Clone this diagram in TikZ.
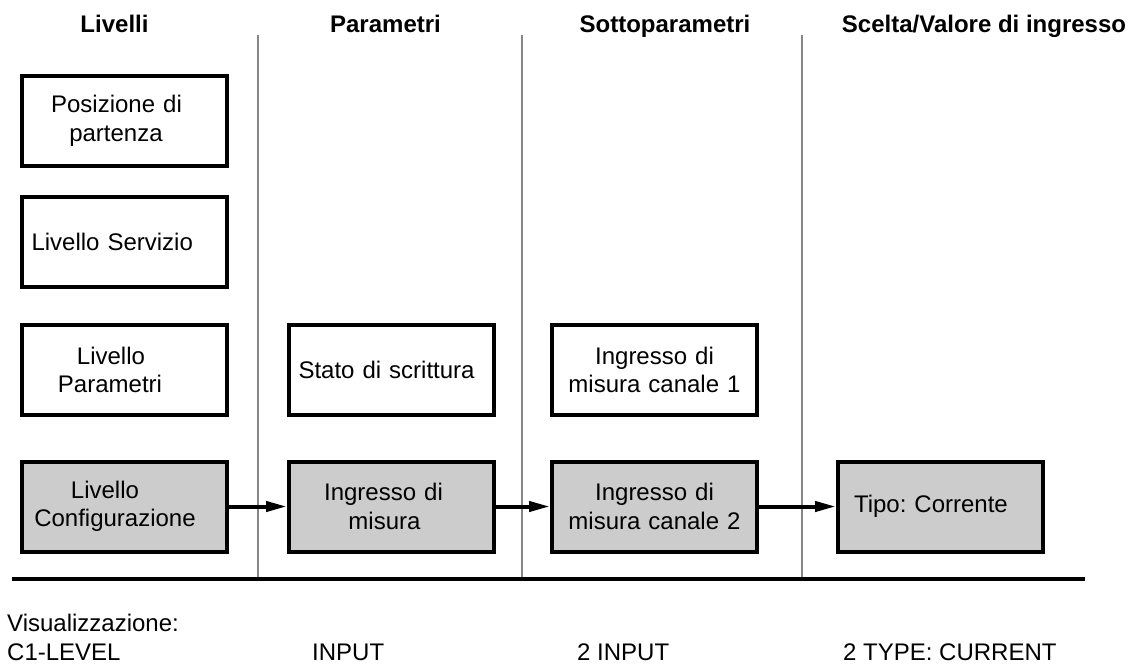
\documentclass[tikz,border=0pt]{standalone}
\usepackage{fontspec}
\setmainfont{Liberation Sans}
\usetikzlibrary{arrows.meta}
\frenchspacing

\definecolor{boxgray}{gray}{0.8}
\definecolor{sepgray}{gray}{0.53}

% trailing pad: pushes a centred line to the left
\newcommand{\padr}[1]{\hspace*{#1}\mbox{}}

\tikzset{
  box/.style={draw, line width=4pt, minimum width=205pt, minimum height=90pt,
    text width=201pt, inner xsep=2pt, align=center,
    font=\fontsize{24}{28.5}\selectfont},
  lft/.style={text width=186pt, inner xsep=9.5pt, align=left},
  sel/.style={box, fill=boxgray},
  head/.style={anchor=base, inner sep=0pt, font=\bfseries\fontsize{24}{28}\selectfont},
  disp/.style={anchor=base west, inner sep=0pt, font=\fontsize{24}{28}\selectfont},
  sep/.style={draw=sepgray, line width=2.6pt},
  flow/.style={-{Triangle[length=21pt,width=10pt]}, line width=4pt}
}

\begin{document}
\begin{tikzpicture}[x=1pt, y=-1pt]
    \useasboundingbox (0,0) rectangle (1140,664);

    \node[head] (hlev) at (114.5, 32) {Livelli};
    \node[head] (hpar) at (385.5, 32) {Parametri};
    \node[head] (hsub) at (665, 32) {Sottoparametri};
    \node[head] (hval) at (984, 32) {Scelta/Valore di ingresso};

    \draw[sep] (258, 35) -- (258, 579);
    \draw[sep] (522, 35) -- (522, 579);
    \draw[sep] (802, 35) -- (802, 579);

    %%%%%%%%%%%%%%%%%%%%%%%%%%%%%%%%%%%%%%%%%%%%%%%%%%%%%%

    \node[box] (start) at (124.5, 121) {Posizione di\padr{16pt}\\partenza\padr{17pt}};
    \node[box, lft] (serv) at (124.5, 241.5) {Livello Servizio};
    \node[box] (lpar) at (124.5, 370) {Livello\padr{27pt}\\Parametri\padr{29pt}};
    \node[sel] (conf) at (124.5, 506.5) {Livello\padr{39pt}\\Configurazione\padr{19pt}};

    \node[box, lft] (wrst) at (391.5, 370) {Stato di scrittura};
    \node[sel] (meas) at (391.5, 506.5) {Ingresso di\padr{16pt}\\misura\padr{14pt}};

    \node[box] (ch1) at (654.5, 370) {Ingresso di\\misura canale 1};
    \node[sel] (ch2) at (654.5, 506.5) {Ingresso di\\misura canale 2};

    \node[sel, lft] (type) at (940.5, 506.5) {\hspace*{6.5pt}Tipo: Corrente};

    %%%%%%%%%%%%%%%%%%%%%%%%%%%%%%%%%%%%%%%%%%%%%%%%%%%%%%

    \draw[flow] (conf) -- (meas);
    \draw[flow] (meas) -- (ch2);
    \draw[flow] (ch2) -- (type);

    \draw[line width=4pt] (12, 579) -- (1085, 579);

    %%%%%%%%%%%%%%%%%%%%%%%%%%%%%%%%%%%%%%%%%%%%%%%%%%%%%%

    \node[disp] (vis) at (7, 631) {Visualizzazione:};
    \node[disp] (dlev) at (7, 660) {C1-LEVEL};
    \node[disp] (dpar) at (312, 660) {INPUT};
    \node[disp] (dsub) at (577, 660) {2 INPUT};
    \node[disp] (dval) at (843, 660) {2 TYPE: CURRENT};
\end{tikzpicture}
\end{document}
